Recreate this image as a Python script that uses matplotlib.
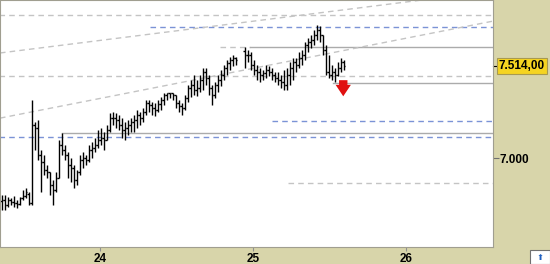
import numpy as np
import matplotlib
matplotlib.use('Agg')
import matplotlib.pyplot as plt
import matplotlib.transforms as mtransforms
from matplotlib.patches import Rectangle

nan = np.nan

# OHLC bars (roughly 30 min bars, x in days of the month)
bar_start = 23.359
bar_step = 3 / 153.0

opens = [6760, 6765, 6737, 6765, 6754, 6748, 6743, 6775, 6788, 6800,
         6748, 7184, 7168, 7017, 6978, 6933, 6922, 6849, 6821, 6888,
         7073, 7045, 7017, 6961, 6944, 6877, 6922, 6989, 7000, 6989,
         7045, 7056, 7073, 7101, 7112, 7101, 7156, 7223, 7223, 7212,
         7184, 7156, 7168, 7184, 7201, 7212, 7240, 7223, 7257, 7307,
         7296, 7279, 7268, 7302, 7324, 7352, 7363, 7363, 7352, 7307,
         7290, 7279, 7335, 7391, 7408, 7380, 7391, 7436, 7480, 7447,
         7391, 7352, 7408, 7436, 7464, 7503, 7531, 7548, 7559, nan,
         nan, 7600, 7575, 7575, 7520, 7492, 7480, 7464, 7475, 7492,
         7480, 7464, 7447, 7436, 7425, 7408, 7464, 7503, 7536, 7520,
         7559, 7575, 7631, 7648, 7659, 7687, 7715, 7687, 7603, 7480,
         7464, 7480, 7464, 7503, 7536]
highs = [6793, 6793, 6782, 6775, 6788, 6765, 6782, 6821, 6832, 6810,
         7324, 7201, 7212, 7045, 7017, 6961, 6922, 6877, 6922, 7101,
         7140, 7073, 7034, 7000, 6961, 6933, 7017, 7034, 7017, 7073,
         7089, 7112, 7156, 7168, 7145, 7184, 7251, 7257, 7251, 7240,
         7223, 7201, 7212, 7223, 7240, 7268, 7257, 7279, 7324, 7324,
         7313, 7307, 7324, 7341, 7363, 7363, 7363, 7363, 7352, 7324,
         7307, 7352, 7408, 7436, 7464, 7436, 7464, 7503, 7503, 7464,
         7408, 7425, 7464, 7492, 7520, 7548, 7564, 7575, 7564, nan,
         nan, 7620, 7603, 7592, 7548, 7520, 7503, 7492, 7520, 7514,
         7503, 7480, 7480, 7464, 7492, 7503, 7536, 7559, 7559, 7592,
         7603, 7648, 7670, 7687, 7715, 7743, 7737, 7687, 7631, 7575,
         7520, 7503, 7536, 7559, 7548]
lows = [6709, 6709, 6726, 6737, 6726, 6720, 6737, 6765, 6775, 6737,
        6737, 7045, 6989, 6810, 6905, 6888, 6793, 6737, 6810, 6888,
        7017, 6989, 6888, 6866, 6832, 6849, 6905, 6944, 6961, 6978,
        7000, 7034, 7056, 7073, 7045, 7101, 7145, 7184, 7168, 7156,
        7112, 7101, 7128, 7145, 7145, 7168, 7184, 7201, 7240, 7257,
        7240, 7235, 7257, 7268, 7296, 7324, 7335, 7324, 7279, 7257,
        7240, 7268, 7313, 7341, 7352, 7346, 7369, 7380, 7408, 7352,
        7296, 7335, 7369, 7402, 7436, 7464, 7492, 7514, 7520, nan,
        nan, 7503, 7536, 7492, 7464, 7436, 7425, 7436, 7447, 7458,
        7436, 7425, 7408, 7391, 7380, 7380, 7408, 7436, 7480, 7503,
        7520, 7548, 7592, 7615, 7631, 7659, 7648, 7575, 7464, 7447,
        7436, 7425, 7458, 7480, 7492]
closes = [6765, 6737, 6765, 6754, 6748, 6743, 6775, 6788, 6810, 6748,
          7184, 7168, 7017, 6978, 6933, 6922, 6849, 6821, 6888, 7073,
          7045, 7017, 6961, 6944, 6877, 6922, 6989, 7000, 6989, 7045,
          7056, 7073, 7101, 7112, 7101, 7156, 7223, 7223, 7212, 7184,
          7156, 7168, 7184, 7201, 7212, 7240, 7223, 7257, 7307, 7296,
          7279, 7268, 7302, 7324, 7352, 7363, 7363, 7352, 7307, 7290,
          7279, 7335, 7391, 7408, 7380, 7391, 7436, 7480, 7447, 7391,
          7352, 7408, 7436, 7464, 7503, 7531, 7548, 7559, 7548, nan,
          nan, 7575, 7575, 7520, 7492, 7480, 7464, 7475, 7492, 7480,
          7464, 7447, 7436, 7425, 7408, 7464, 7503, 7536, 7520, 7559,
          7575, 7631, 7648, 7659, 7687, 7715, 7687, 7603, 7480, 7464,
          7480, 7464, 7503, 7536, 7514]

last_price = 7514

# support / resistance levels: (price, x from, x to)
levels_blue = [(7732, 24.327, 26.569), (7207, 25.124, 26.569), (7116, 23.3, 26.569)]
levels_gray_dash = [(7799, 23.3, 26.569), (7458, 23.3, 26.569), (6860, 25.229, 26.569),
                    (7623, 24.784, 24.98)]
levels_gray_solid = [(7623, 24.98, 26.569), (7419, 25.523, 26.569), (7140, 23.75, 26.569)]
# trend lines: (x0, y0, x1, y1)
trends = [(23.346, 7587, 26.105, 7883), (23.346, 7223, 26.569, 7765)]

signal_x = 25.59
signal_top = 7435
signal_bottom = 7345

bg = '#d8d5aa'
fig = plt.figure(figsize=(5.5, 2.64), dpi=100, facecolor=bg)
ax = fig.add_axes([0, 17 / 264, 493 / 550, 247 / 264])
ax.set_facecolor('white')
ax.set_xlim(23.346, 26.569)
ax.set_ylim(6503, 7883)

for y, x0, x1 in levels_gray_dash:
    ax.plot([x0, x1], [y, y], color='#c4c4c4', lw=1, ls=(0, (4, 3)))
for y, x0, x1 in levels_blue:
    ax.plot([x0, x1], [y, y], color='#7b93d6', lw=1, ls=(0, (4, 3)))
for y, x0, x1 in levels_gray_solid:
    ax.plot([x0, x1], [y, y], color='#ababab', lw=1)
for x0, y0, x1, y1 in trends:
    ax.plot([x0, x1], [y0, y1], color='#c4c4c4', lw=1, ls=(0, (4, 3)))

o = np.array(opens, float)
h = np.array(highs, float)
l = np.array(lows, float)
c = np.array(closes, float)
x = bar_start + bar_step * np.arange(len(c))
ok = ~np.isnan(c)
tick = 1.5 / 153.0
ax.vlines(x[ok], l[ok], h[ok], color='black', lw=1.0)
ax.hlines(o[ok], x[ok] - tick, x[ok], color='black', lw=1.0)
ax.hlines(c[ok], x[ok], x[ok] + tick, color='black', lw=1.0)

# red sell arrow
ax.annotate('', xy=(signal_x, signal_bottom), xytext=(signal_x, signal_top),
            arrowprops=dict(arrowstyle='simple,head_width=1.0,head_length=0.75,tail_width=0.55',
                            color='#e01010', lw=0, mutation_scale=11,
                            shrinkA=0, shrinkB=0))

for s in ax.spines.values():
    s.set_color('#a09e90')

ax.yaxis.tick_right()
ax.set_yticks([7000])
ax.set_yticklabels(['7.000'])
ax.set_xticks([24, 25, 26])
ax.set_xticklabels(['24', '25', '26'])
ax.tick_params(axis='y', length=4, width=0.8, color='#707070', pad=1,
               labelsize=8.5, labelcolor='black')
ax.tick_params(axis='x', length=3, width=0.8, color='#909090', pad=1,
               labelsize=8.5)
for lab in ax.get_xticklabels() + ax.get_yticklabels():
    lab.set_fontfamily('Liberation Sans')
    lab.set_fontweight('bold')

# last price label
trans = mtransforms.blended_transform_factory(ax.transAxes, ax.transData)
ax.plot([1.0, 1.009], [last_price, last_price], color='black', lw=0.8,
        transform=trans, clip_on=False)
ax.text(1.012, last_price, '7.514,00', transform=trans, va='center', ha='left',
        fontsize=8.5, fontweight='bold', family='Liberation Sans',
        bbox=dict(boxstyle='square,pad=0.15', fc='#f5d421', ec='#a89a50', lw=0.8))

# small button in the corner
fig.patches.append(Rectangle((530 / 550, 0), 20 / 550, 14 / 264, transform=fig.transFigure,
                             fc='white', ec='#707070', lw=0.8))
fig.text(540 / 550, 7 / 264, '\u2b06', color='#2060c0', fontsize=6, ha='center', va='center')

fig.savefig('out.png', dpi=100, facecolor=bg)
